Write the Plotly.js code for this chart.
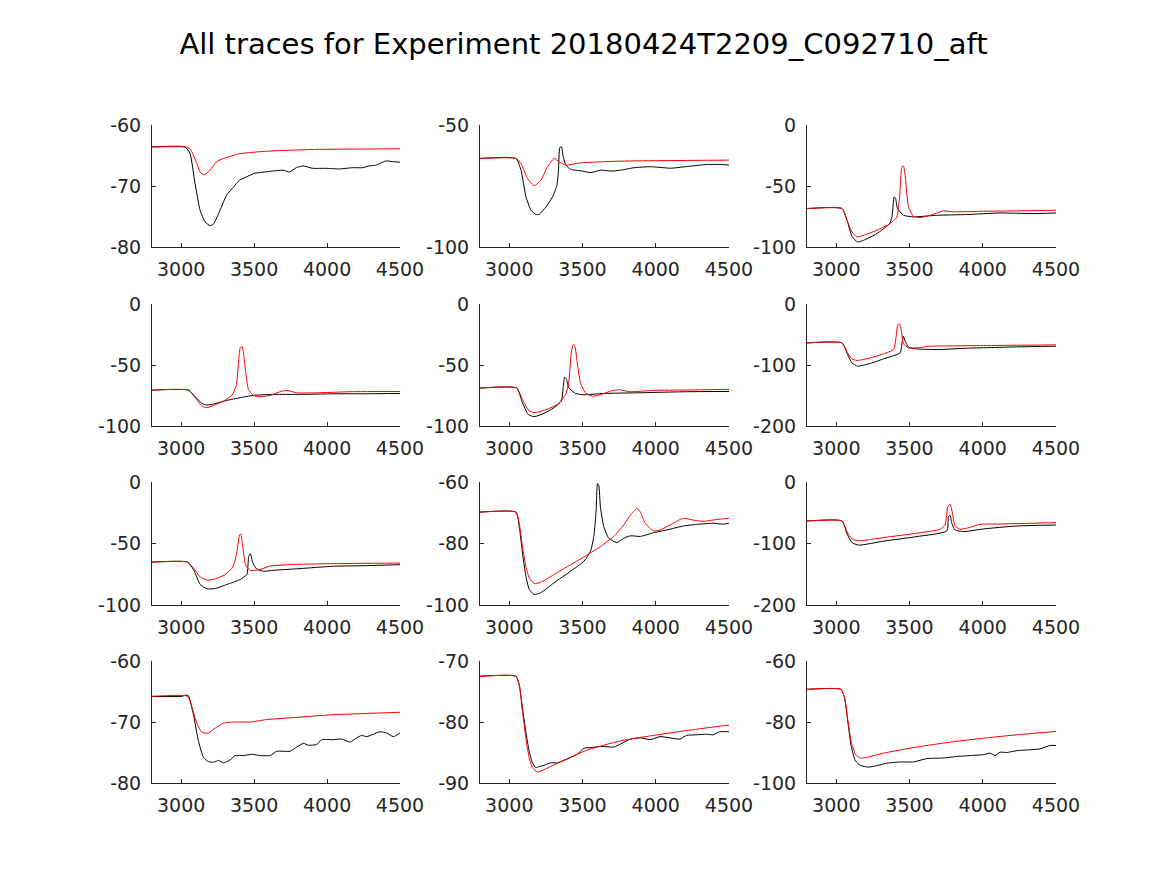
<!DOCTYPE html>
<html>
<head>
<meta charset="utf-8">
<script src="https://cdn.plot.ly/plotly-3.0.1.min.js"></script>
<style>html,body{margin:0;padding:0;background:#fff;}#chart{width:1167px;height:875px;}</style>
</head>
<body>
<div id="chart"></div>
<script>
// ---- data (membrane potential traces, x = time) ----
const titleText = "All traces for Experiment 20180424T2209_C092710_aft";
const xTickVals = [3000, 3500, 4000, 4500];
const xRange = [2800, 4500];

const p1xExp = [2800,3027,3061,3095,3130,3164,3198,3220,3266,3311,3357,3402,3448,3505,3539,3607,3698,3743,3789,3834,3902,3993,4084,4175,4243,4289,4334,4402,4448,4500];
const p1yExp = [-63.6,-63.6,-64.7,-69.6,-74.0,-75.9,-76.5,-76.3,-74.0,-71.5,-70.2,-69.0,-68.5,-67.9,-67.8,-67.6,-67.4,-67.7,-67.0,-66.7,-67.1,-67.1,-67.2,-67.0,-67.0,-66.7,-66.6,-65.9,-66.0,-66.1];
const p1xMod = [2800,3027,3061,3107,3130,3157,3198,3243,3289,3402,3584,3925,4200,4500];
const p1yMod = [-63.6,-63.6,-63.9,-66.3,-67.7,-68.2,-67.4,-66.0,-65.5,-64.7,-64.3,-64.0,-63.95,-63.9];

const p2xExp = [2800,3045,3080,3114,3148,3182,3205,3250,3295,3325,3336,3345,3357,3368,3386,3420,3489,3557,3625,3693,3761,3852,3966,4102,4216,4352,4443,4500];
const p2yExp = [-63.7,-63.7,-68.5,-79.5,-84.9,-86.7,-86.6,-83.6,-79.5,-74.7,-68.5,-59.2,-58.9,-63.0,-66.4,-68.2,-68.8,-69.5,-68.5,-68.9,-68.5,-67.5,-67.1,-67.7,-67.0,-66.2,-66.2,-66.4];
const p2xMod = [2800,3045,3080,3125,3170,3216,3261,3307,3341,3370,3398,3489,3761,4500];
const p2yMod = [-63.7,-63.7,-65.8,-71.9,-74.9,-72.6,-67.1,-63.7,-65.1,-66.0,-66.4,-65.5,-64.8,-64.4];

const p3xExp = [2800,3039,3073,3107,3145,3186,3277,3364,3380,3395,3405,3418,3459,3527,3686,3891,4118,4345,4500];
const p3yExp = [-68.5,-68.5,-78,-91.2,-95.9,-94.5,-89.0,-80.8,-75.3,-58.9,-60.3,-68.5,-74.0,-75.3,-74.0,-73.4,-72.1,-72.6,-72.1];
const p3xMod = [2800,3039,3073,3107,3141,3186,3277,3368,3414,3432,3448,3459,3470,3493,3527,3573,3641,3732,3800,4005,4232,4500];
const p3yMod = [-68.5,-68.5,-78,-87.7,-91.8,-90.4,-86.3,-80.8,-75.3,-58.9,-34.2,-33.7,-41.1,-67.1,-74.8,-75.9,-74.0,-70.4,-71.2,-70.7,-70.4,-69.9];

const p4xExp = [2800,3050,3096,3142,3176,3221,3313,3404,3495,3632,3815,4043,4272,4500];
const p4yExp = [-70.6,-70.6,-76.0,-81.5,-82.8,-82.0,-79.0,-76.8,-74.9,-74.1,-74.1,-73.6,-73.6,-73.3];
const p4xMod = [2800,3050,3096,3142,3176,3221,3290,3347,3377,3393,3404,3416,3427,3443,3461,3495,3541,3610,3678,3724,3792,3929,4158,4500];
const p4yMod = [-70.6,-70.6,-76.8,-83.7,-85.0,-83.1,-79.6,-74.9,-67.3,-48.2,-36.0,-34.6,-40.1,-56.4,-70.0,-74.9,-76.0,-74.9,-71.9,-70.8,-72.8,-72.8,-71.9,-71.7];

const p5xExp = [2800,3050,3090,3129,3170,3238,3305,3355,3369,3378,3389,3407,3452,3509,3645,3871,4210,4500];
const p5yExp = [-68.9,-68.9,-80.9,-90.5,-92.4,-89.6,-85.0,-79.6,-67.3,-59.9,-61.3,-68.7,-73.3,-74.4,-73.3,-72.8,-71.9,-71.7];
const p5xMod = [2800,3050,3090,3129,3170,3238,3328,3385,3407,3423,3437,3448,3464,3486,3520,3566,3622,3690,3747,3826,3984,4210,4500];
const p5yMod = [-68.9,-68.9,-78.2,-86.9,-89.1,-87.2,-82.3,-74.1,-63.2,-40.1,-33.2,-34.6,-48.2,-64.6,-72.8,-75.5,-74.4,-71.4,-70.3,-71.9,-70.8,-70.5,-70.0];

const p6xExp = [2800,3039,3077,3107,3145,3232,3323,3436,3448,3459,3470,3493,3550,3686,3891,4232,4500];
const p6yExp = [-63.8,-63.8,-82.8,-96.5,-101.9,-97.5,-89.9,-80.1,-63.8,-52.9,-61.0,-70.8,-73.6,-74.7,-72.5,-70.3,-69.2];
const p6xMod = [2800,3039,3077,3107,3141,3232,3323,3391,3409,3420,3432,3443,3459,3493,3550,3641,3777,4005,4500];
const p6yMod = [-63.8,-63.8,-80.1,-89.9,-92.6,-88.3,-81.7,-74.7,-52.9,-33.8,-32.7,-42.0,-65.4,-71.9,-71.9,-69.2,-68.6,-68.1,-67.0];

const p7xExp = [2800,3043,3084,3130,3176,3233,3313,3404,3450,3463,3475,3491,3518,3564,3632,3815,4043,4272,4500];
const p7yExp = [-65.1,-65.1,-71.2,-83.3,-86.8,-86.6,-83.3,-79.3,-75.3,-60.5,-58.3,-65.9,-70.7,-72.6,-71.8,-70.4,-68.5,-68.0,-67.2];
const p7xMod = [2800,3043,3084,3130,3180,3233,3301,3354,3381,3400,3409,3422,3441,3473,3541,3610,3815,4043,4500];
const p7yMod = [-65.1,-65.1,-69.9,-77.2,-79.8,-78.8,-75.3,-69.1,-57.8,-43.0,-42.2,-52.4,-67.2,-71.8,-71.2,-68.3,-66.9,-66.4,-65.9];

const p8xExp = [2800,3045,3068,3090,3113,3136,3170,3215,3305,3419,3509,3554,3577,3593,3602,3611,3622,3645,3679,3735,3781,3826,3894,3984,4075,4188,4278,4391,4459,4500];
const p8yExp = [-69.8,-69.8,-74.5,-83.1,-90.6,-94.9,-96.6,-96.0,-92.8,-89.0,-85.8,-82.6,-77.7,-69.1,-60.5,-61.1,-68.1,-74.5,-78.3,-79.7,-78.3,-77.5,-77.7,-76.5,-75.6,-74.3,-73.8,-73.4,-73.7,-73.4];
const p8xMod = [2800,3045,3068,3090,3113,3136,3170,3215,3305,3419,3532,3622,3713,3781,3826,3871,3894,3928,3984,4029,4097,4188,4256,4324,4414,4500];
const p8yMod = [-69.8,-69.8,-73.4,-81.0,-87.4,-91.2,-93.0,-92.6,-90.1,-86.9,-83.7,-81.0,-77.7,-74.0,-70.8,-68.6,-69.7,-73.4,-75.9,-75.6,-74.0,-71.8,-72.4,-72.8,-72.2,-71.8];

const p9xExp = [2800,3039,3073,3107,3152,3323,3550,3755,3766,3777,3789,3811,3868,4005,4232,4500];
const p9yExp = [-63.4,-63.4,-84.4,-98.4,-102.7,-96.2,-88.7,-79.6,-56.5,-53.8,-67.2,-78.0,-80.6,-76.3,-71.5,-69.9];
const p9xMod = [2800,3039,3073,3107,3152,3323,3550,3709,3743,3761,3777,3791,3811,3845,3914,3982,4118,4500];
const p9yMod = [-63.4,-63.4,-80.6,-92.5,-95.7,-90.3,-83.3,-76.9,-69.9,-40.3,-36.0,-48.4,-71.5,-76.9,-73.7,-68.8,-68.3,-66.1];

const p10xExp = [2800,3005,3027,3050,3084,3119,3153,3187,3221,3256,3290,3336,3370,3427,3484,3541,3610,3655,3747,3792,3838,3872,3929,3963,4043,4100,4158,4203,4237,4272,4317,4363,4409,4454,4500];
const p10yExp = [-65.8,-65.8,-65.6,-65.7,-68.8,-73.2,-75.8,-76.5,-76.6,-76.3,-76.7,-76.2,-75.5,-75.5,-75.3,-75.5,-75.5,-74.8,-74.8,-74.1,-73.5,-73.8,-73.7,-72.9,-72.9,-72.8,-73.3,-72.6,-72.2,-72.4,-72.0,-71.6,-71.8,-72.4,-71.8];
const p10xMod = [2800,3043,3073,3107,3142,3187,3233,3290,3358,3473,3587,3815,4043,4272,4500];
const p10yMod = [-65.8,-65.8,-67.5,-70.2,-71.7,-71.8,-71.0,-70.2,-70.0,-70.0,-69.6,-69.2,-68.8,-68.6,-68.4];

const p11xExp = [2800,3045,3068,3090,3113,3136,3158,3181,3204,3238,3283,3328,3373,3419,3464,3509,3554,3622,3713,3769,3826,3894,3961,4029,4097,4165,4210,4278,4346,4391,4437,4500];
const p11yExp = [-72.5,-72.5,-73.9,-77.7,-81.6,-84.8,-86.7,-87.5,-87.3,-87.1,-86.7,-86.7,-86.3,-85.8,-85.3,-84.3,-84.2,-84.0,-84.1,-83.5,-82.8,-82.6,-82.9,-82.4,-82.6,-82.8,-82.2,-82.1,-82.0,-82.1,-81.6,-81.6];
const p11xMod = [2800,3045,3068,3090,3113,3136,3158,3192,3238,3351,3532,3758,3984,4210,4500];
const p11yMod = [-72.5,-72.5,-73.9,-78.3,-82.6,-85.9,-87.5,-88.2,-87.8,-86.5,-84.6,-83.1,-82.2,-81.4,-80.5];

const p12xExp = [2800,3032,3057,3080,3102,3130,3164,3220,3277,3345,3436,3527,3618,3732,3823,3914,4005,4050,4084,4118,4164,4232,4323,4391,4459,4500];
const p12yExp = [-69.3,-69.3,-72.2,-80.4,-88.0,-92.7,-94.2,-94.8,-94.3,-93.5,-93.1,-93.1,-92.0,-91.8,-91.3,-91.0,-90.7,-90.2,-91.0,-89.9,-90.0,-89.4,-89.1,-88.8,-87.7,-87.7];
const p12xMod = [2800,3032,3057,3080,3102,3130,3164,3209,3323,3550,3777,4005,4232,4500];
const p12yMod = [-69.3,-69.3,-72.2,-79.8,-86.4,-90.5,-91.8,-91.6,-90.2,-88.2,-86.6,-85.3,-84.2,-83.1];

const yRanges = [[-80,-60],[-100,-50],[-100,0],[-100,0],[-100,0],[-200,0],[-100,0],[-100,-60],[-200,0],[-80,-60],[-90,-70],[-100,-60]];
const yTicks = [[-80,-70,-60],[-100,-50],[-100,-50,0],[-100,-50,0],[-100,-50,0],[-200,-100,0],[-100,-50,0],[-100,-80,-60],[-200,-100,0],[-80,-70,-60],[-90,-80,-70],[-100,-80,-60]];

const expX = [p1xExp,p2xExp,p3xExp,p4xExp,p5xExp,p6xExp,p7xExp,p8xExp,p9xExp,p10xExp,p11xExp,p12xExp];
const expY = [p1yExp,p2yExp,p3yExp,p4yExp,p5yExp,p6yExp,p7yExp,p8yExp,p9yExp,p10yExp,p11yExp,p12yExp];
const modX = [p1xMod,p2xMod,p3xMod,p4xMod,p5xMod,p6xMod,p7xMod,p8xMod,p9xMod,p10xMod,p11xMod,p12xMod];
const modY = [p1yMod,p2yMod,p3yMod,p4yMod,p5yMod,p6yMod,p7yMod,p8yMod,p9yMod,p10yMod,p11yMod,p12yMod];

// ---- layout geometry ----
const W = 1167, H = 875;
const colPx = [[152,400],[480,729],[807,1056]];
const rowPx = [[125,247],[304,426],[482,605],[661,783]];
const FONT = "DejaVu Sans, Liberation Sans, sans-serif";
const AX = "#262626";

const traces = [];
const layout = {
  width: W, height: H,
  margin: {l:0, r:0, t:0, b:0},
  paper_bgcolor: "#fff", plot_bgcolor: "#fff",
  showlegend: false,
  font: {family: FONT, size: 19, color: AX},
  title: {text: titleText, x: 0.5, xanchor: "center", y: 1 - 44/H, yanchor: "middle",
          font: {family: FONT, size: 29, color: "#000"}}
};

for (let i = 0; i < 12; i++) {
  const r = Math.floor(i / 3), c = i % 3;
  const n = i === 0 ? "" : String(i + 1);
  const xa = "x" + n, ya = "y" + n;
  traces.push({x: expX[i], y: expY[i], xaxis: xa, yaxis: ya, type: "scatter", mode: "lines",
               line: {color: "#000000", width: 1, shape: "spline", smoothing: 0.5}, hoverinfo: "skip"});
  traces.push({x: modX[i], y: modY[i], xaxis: xa, yaxis: ya, type: "scatter", mode: "lines",
               line: {color: "#ff0000", width: 1, shape: "spline", smoothing: 0.5}, hoverinfo: "skip"});
  const common = {showline: true, linecolor: AX, linewidth: 1, ticks: "inside", ticklen: 4,
                  tickcolor: AX, showgrid: false, zeroline: false, mirror: false, fixedrange: true,
                  tickfont: {family: FONT, size: 19, color: AX}};
  layout["xaxis" + n] = Object.assign({}, common, {
    domain: [colPx[c][0]/W, colPx[c][1]/W], anchor: ya, range: xRange,
    tickvals: xTickVals, ticktext: xTickVals.map(String), ticklabelstandoff: 5
  });
  layout["yaxis" + n] = Object.assign({}, common, {
    domain: [1 - rowPx[r][1]/H, 1 - rowPx[r][0]/H], anchor: xa, range: yRanges[i],
    tickvals: yTicks[i], ticktext: yTicks[i].map(String), ticklabelstandoff: 6
  });
}

Plotly.newPlot("chart", traces, layout, {staticPlot: true, displayModeBar: false});
</script>
</body>
</html>
